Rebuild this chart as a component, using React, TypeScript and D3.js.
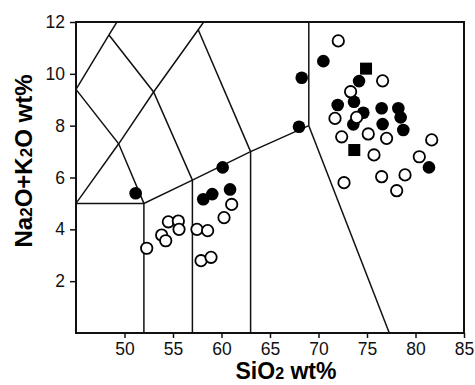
import { useEffect, useRef } from "react";
import * as d3 from "d3";

// filled circles
const filledSiO2 = [51.15, 60.12, 60.88, 59.05, 58.12, 68.27, 70.5, 67.99, 74.18, 73.66, 71.98, 74.62, 73.59, 76.51, 76.61, 78.23, 78.47, 78.74, 81.39];
const filledAlk = [5.39, 6.39, 5.54, 5.36, 5.16, 9.85, 10.49, 7.96, 9.72, 8.92, 8.8, 8.5, 8.05, 8.67, 8.06, 8.67, 8.32, 7.83, 6.39];

// open circles
const openSiO2 = [61.05, 60.26, 54.52, 55.55, 55.62, 53.83, 54.25, 52.29, 57.47, 58.57, 57.89, 58.92, 72.04, 76.61, 73.31, 73.93, 71.7, 72.39, 75.13, 77.02, 81.67, 75.72, 80.39, 78.92, 76.51, 78.06, 72.63];
const openAlk = [4.96, 4.45, 4.29, 4.32, 4.0, 3.78, 3.56, 3.27, 4.0, 3.95, 2.79, 2.92, 11.27, 9.73, 9.31, 8.32, 8.28, 7.57, 7.68, 7.51, 7.45, 6.87, 6.8, 6.1, 6.03, 5.49, 5.8];

// filled squares
const squareSiO2 = [74.9, 73.69];
const squareAlk = [10.2, 7.06];

// TAS field boundaries (SiO2, Na2O+K2O)
const tasLines: [number, number][][] = [
  [[45, 9.4], [48.4, 11.5], [52.5, 14]],
  [[45, 9.4], [49.4, 7.3], [52, 5]],
  [[45, 5], [49.4, 7.3], [53, 9.3], [57.6, 11.7], [61, 13.5]],
  [[48.4, 11.5], [53, 9.3], [57, 5.9]],
  [[57.6, 11.7], [63, 7]],
  [[45, 5], [52, 5], [57, 5.9], [63, 7], [69, 8]],
  [[52, 0], [52, 5]],
  [[57, 0], [57, 5.9]],
  [[63, 0], [63, 7]],
  [[69, 8], [69, 13]],
  [[69, 8], [77.3, 0]],
];

const xTicks = [50, 55, 60, 65, 70, 75, 80, 85];
const yTicks = [2, 4, 6, 8, 10, 12];

const FONT = "Arial, 'Liberation Sans', Helvetica, sans-serif";

export default function App() {
  const svgRef = useRef<SVGSVGElement>(null);

  useEffect(() => {
    if (!svgRef.current) return;
    const width = 475;
    const height = 385;
    const left = 76, right = 464, top = 22, bottom = 333;

    const svg = d3.select(svgRef.current);
    svg.selectAll("*").remove();
    svg.attr("viewBox", `0 0 ${width} ${height}`);

    const x = d3.scaleLinear().domain([45, 85]).range([left, right]);
    const y = d3.scaleLinear().domain([0, 12]).range([bottom, top]);

    svg.append("rect").attr("width", width).attr("height", height).attr("fill", "#fff");

    svg
      .append("defs")
      .append("clipPath")
      .attr("id", "plotclip")
      .append("rect")
      .attr("x", left)
      .attr("y", top)
      .attr("width", right - left)
      .attr("height", bottom - top);

    // boundary lines
    const line = d3
      .line<[number, number]>()
      .x((d) => x(d[0]))
      .y((d) => y(d[1]));
    svg
      .append("g")
      .attr("clip-path", "url(#plotclip)")
      .selectAll("path")
      .data(tasLines)
      .join("path")
      .attr("d", (d) => line(d))
      .attr("fill", "none")
      .attr("stroke", "#111")
      .attr("stroke-width", 1.5);

    // axes
    const xAxis = svg
      .append("g")
      .attr("transform", `translate(0,${bottom})`)
      .call(d3.axisBottom(x).tickValues(xTicks).tickSize(5).tickPadding(5));
    const yAxis = svg
      .append("g")
      .attr("transform", `translate(${left},0)`)
      .call(d3.axisLeft(y).tickValues(yTicks).tickSize(6).tickPadding(5));
    [xAxis, yAxis].forEach((g) => {
      g.select(".domain").remove();
      g.selectAll("line").attr("stroke", "#111").attr("stroke-width", 1.5);
      g.selectAll("text")
        .attr("fill", "#111")
        .style("font-family", FONT)
        .style("font-size", "17.5px");
    });

    // frame
    svg
      .append("rect")
      .attr("x", left)
      .attr("y", top)
      .attr("width", right - left)
      .attr("height", bottom - top)
      .attr("fill", "none")
      .attr("stroke", "#111")
      .attr("stroke-width", 2);

    // points
    const pts = svg.append("g");
    pts
      .selectAll("circle.filled")
      .data(filledSiO2.map((v, i) => [v, filledAlk[i]]))
      .join("circle")
      .attr("class", "filled")
      .attr("cx", (d) => x(d[0]))
      .attr("cy", (d) => y(d[1]))
      .attr("r", 6.3)
      .attr("fill", "#000");

    pts
      .selectAll("circle.open")
      .data(openSiO2.map((v, i) => [v, openAlk[i]]))
      .join("circle")
      .attr("class", "open")
      .attr("cx", (d) => x(d[0]))
      .attr("cy", (d) => y(d[1]))
      .attr("r", 5.7)
      .attr("fill", "#fff")
      .attr("stroke", "#000")
      .attr("stroke-width", 1.8);

    pts
      .selectAll("rect.sq")
      .data(squareSiO2.map((v, i) => [v, squareAlk[i]]))
      .join("rect")
      .attr("class", "sq")
      .attr("x", (d) => x(d[0]) - 6)
      .attr("y", (d) => y(d[1]) - 6)
      .attr("width", 12)
      .attr("height", 12)
      .attr("fill", "#000");

    // axis titles
    const xt = svg
      .append("text")
      .attr("x", 286)
      .attr("y", 379)
      .attr("text-anchor", "middle")
      .style("font-family", FONT)
      .style("font-size", "23px")
      .style("font-weight", "bold")
      .attr("fill", "#000");
    xt.append("tspan").text("SiO");
    xt.append("tspan").style("font-size", "16px").text("2");
    xt.append("tspan").text(" wt%");

    const yt = svg
      .append("text")
      .attr("transform", "translate(32,161) rotate(-90)")
      .attr("text-anchor", "middle")
      .style("font-family", FONT)
      .style("font-size", "24px")
      .style("font-weight", "bold")
      .attr("fill", "#000");
    yt.append("tspan").text("Na");
    yt.append("tspan").style("font-size", "17px").text("2");
    yt.append("tspan").text("O+K");
    yt.append("tspan").style("font-size", "17px").text("2");
    yt.append("tspan").text("O wt%");
  }, []);

  return (
    <svg
      ref={svgRef}
      width={475}
      height={385}
      style={{ position: "absolute", left: 0, top: 0, display: "block" }}
    />
  );
}
